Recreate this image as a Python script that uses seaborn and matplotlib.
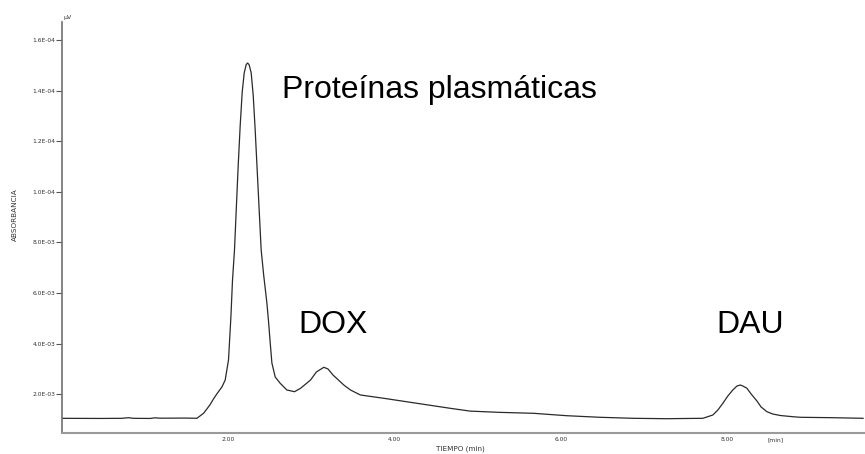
import matplotlib
matplotlib.use("Agg")
import matplotlib.pyplot as plt
import seaborn as sns
import pandas as pd

# Chromatogram trace (time in min, absorbance in µV)
tiempo = [0.000, 0.460, 0.720, 0.800, 0.860, 1.060, 1.120, 1.180, 1.480, 1.623,
          1.703, 1.743, 1.783, 1.823, 1.864, 1.924, 1.963, 2.003, 2.032, 2.051,
          2.075, 2.096, 2.120, 2.144, 2.168, 2.192, 2.216, 2.234, 2.252, 2.276,
          2.300, 2.324, 2.348, 2.372, 2.396, 2.426, 2.465, 2.484, 2.505, 2.525,
          2.565, 2.625, 2.705, 2.797, 2.870, 2.990, 3.060, 3.150, 3.200, 3.260,
          3.390, 3.470, 3.590, 3.870, 4.270, 4.670, 4.910, 5.270, 5.670, 6.070,
          6.470, 6.870, 7.270, 7.710, 7.830, 7.890, 7.950, 8.010, 8.070, 8.120,
          8.160, 8.190, 8.240, 8.290, 8.360, 8.410, 8.480, 8.550, 8.640, 8.790,
          8.880, 9.270, 9.640]
absorbancia = [1050, 1045, 1050, 1075, 1050, 1045, 1070, 1055, 1060, 1051,
               1249, 1420, 1600, 1820, 2020, 2290, 2560, 3355, 5066, 6500,
               7702, 9283, 11062, 12643, 13950, 14700, 15033, 15093, 15014, 14698,
               13828, 12445, 10864, 9283, 7702, 6714, 5600, 4900, 4027, 3237,
               2683, 2434, 2170, 2102, 2237, 2565, 2881, 3067, 3000, 2762,
               2367, 2170, 1972, 1842, 1644, 1446, 1335, 1285, 1249, 1154,
               1091, 1051, 1035, 1051, 1182, 1379, 1644, 1932, 2170, 2328,
               2367, 2328, 2237, 2012, 1735, 1498, 1312, 1221, 1162, 1114,
               1091, 1075, 1051]

y_ticks = [2000, 4000, 6000, 8000, 10000, 12000, 14000, 16000]
y_tick_labels = ["2.0E-03", "4.0E-03", "6.0E-03", "8.0E-03",
                 "1.0E-04", "1.2E-04", "1.4E-04", "1.6E-04"]
x_ticks = [2, 4, 6, 8]
x_tick_labels = ["2.00", "4.00", "6.00", "8.00"]

picos = ["Proteínas plasmáticas", "DOX", "DAU"]
picos_t = [2.65, 2.84, 7.87]
picos_v = [13710, 4422, 4422]

sns.set_style("white")
plt.rcParams["font.family"] = ["DejaVu Sans"]

fig = plt.figure(figsize=(8.65, 4.54), dpi=100)
ax = fig.add_axes([62 / 865, 1 - 433 / 454, 1 - 62 / 865, (433 - 21.7) / 454])

df = pd.DataFrame({"t": tiempo, "v": absorbancia})
sns.lineplot(data=df, x="t", y="v", ax=ax, color="#2a2a2a", linewidth=0.9)

ax.set_xlim(0, 9.66)
ax.set_ylim(470, 16725)

for s in ["top", "right"]:
    ax.spines[s].set_visible(False)
ax.spines["left"].set_color("#707070")
ax.spines["left"].set_linewidth(1.2)
ax.spines["bottom"].set_color("#9a9a9a")
ax.spines["bottom"].set_linewidth(1.5)

ax.set_yticks(y_ticks)
ax.set_yticklabels(y_tick_labels, fontsize=4.3, color="#333333")
ax.tick_params(axis="y", length=4, width=0.8, color="#555555", pad=1, left=True)
ax.set_xticks(x_ticks)
ax.set_xticklabels(x_tick_labels, fontsize=4.3, color="#333333")
ax.tick_params(axis="x", length=0, pad=3)

ax.set_xlabel("")
ax.set_ylabel("")
fig.text(460 / 865, 1 - 449 / 454, "TIEMPO (min)", fontsize=5.2, ha="center",
         va="center", color="#333333")
fig.text(15 / 865, 1 - 215 / 454, "ABSORBANCIA", fontsize=5.2, rotation=90,
         ha="center", va="center", color="#333333")
fig.text(64 / 865, 1 - 18 / 454, "µV", fontsize=4.5, ha="left", va="center",
         color="#333333")
fig.text(768 / 865, 1 - 440 / 454, "[min]", fontsize=4.3, ha="left",
         va="center", color="#333333")

for name, t, v in zip(picos, picos_t, picos_v):
    ax.text(t, v, name, fontsize=23, family=["Liberation Sans"],
            ha="left", va="baseline", color="black")

fig.savefig("out.png", dpi=100)
